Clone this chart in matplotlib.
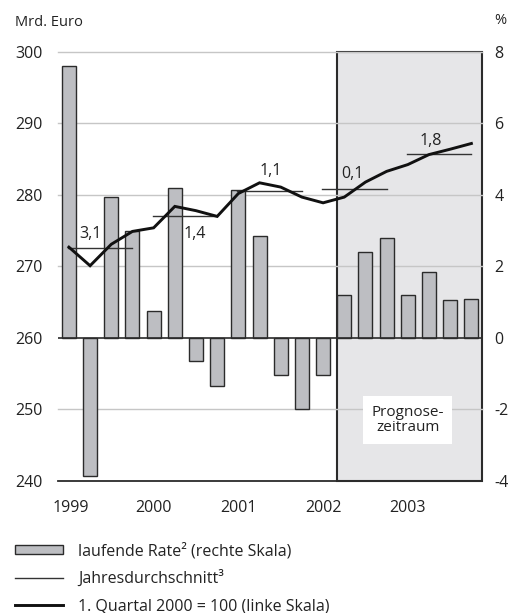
import numpy as np
import matplotlib.pyplot as plt
from matplotlib.patches import Rectangle, Patch
from matplotlib.lines import Line2D

plt.rcParams['font.family'] = ['Open Sans', 'DejaVu Sans']

# data
years = ['1999', '2000', '2001', '2002', '2003']
# laufende Rate (rechte Skala, %)
rate = [7.6, -3.85, 3.95, 3.0, 0.75, 4.2, -0.65, -1.35,
        4.15, 2.85, -1.05, -2.0, -1.05, 1.2, 2.4, 2.8,
        1.2, 1.85, 1.05, 1.1]
# 1. Quartal 2000 = 100 (linke Skala)
level = [272.7, 270.1, 273.1, 274.9, 275.4, 278.4, 277.8, 277.0,
         280.2, 281.7, 281.1, 279.7, 278.9, 279.7, 281.8, 283.3,
         284.25, 285.65, 286.4, 287.2]
# Jahresdurchschnitt (linke Skala) and its growth labels
annual_avg = [272.6, 277.0, 280.6, 280.85, 285.75]
annual_lbl = ['3,1', '1,4', '1,1', '0,1', '1,8']
left_ticks = [240, 250, 260, 270, 280, 290, 300]
right_ticks = [-4, -2, 0, 2, 4, 6, 8]

dark = '#2b2b2b'
bar_col = '#bdbec2'
shade = '#e6e6e8'
grid_col = '#c6c6c6'

fig = plt.figure(figsize=(5.11, 6.13), dpi=100)
ax2 = fig.add_axes([0.1141, 0.2155, 0.8291, 0.6997])
ax = ax2.twinx()
ax.set_zorder(ax2.get_zorder() + 1)
ax.patch.set_visible(False)

n = len(rate)
xq = np.arange(n) + 0.5

# right scale: bars, shading, grid
ax2.set_xlim(0, n)
ax2.set_ylim(-4, 8)
ax2.add_patch(Rectangle((13.17, -4), n - 13.17, 12, facecolor=shade,
                        edgecolor=dark, linewidth=1.5, zorder=0.5, clip_on=False))
for t in right_ticks[1:]:
    if t != 0:
        ax2.axhline(t, color=grid_col, lw=1, zorder=1, clip_on=False)
ax2.bar(xq, rate, width=0.66, color=bar_col, edgecolor=dark, linewidth=1, zorder=2)
ax2.axhline(0, color=dark, lw=1.2, zorder=3)
ax2.text(16.5, -2.3, 'Prognose-\nzeitraum', ha='center', va='center', fontsize=11,
         linespacing=1.05, color='#222222',
         bbox=dict(facecolor='white', edgecolor='none', pad=6), zorder=4)

# left scale: level line and annual averages
ax.set_ylim(240, 300)
ax.set_xlim(0, n)
ax.plot(xq, level, color='#111111', lw=2.1, zorder=5, solid_joinstyle='miter')
lbl_pos = [(1.5, 274.6), (6.45, 274.6), (10.05, 283.3), (13.9, 283.0), (17.6, 287.6)]
for k in range(len(annual_avg)):
    ax.plot([4 * k + 0.45, 4 * k + 3.5], [annual_avg[k]] * 2, color='#333333',
            lw=1.0, zorder=4)
    ax.text(lbl_pos[k][0], lbl_pos[k][1], annual_lbl[k], ha='center', va='center',
            fontsize=11.5, color='#222222', zorder=6)

# axes cosmetics
for a in (ax, ax2):
    for s in ('left', 'right', 'top'):
        a.spines[s].set_visible(False)
ax.spines['bottom'].set_visible(False)
ax2.spines['bottom'].set_color(dark)
ax2.spines['bottom'].set_linewidth(1.3)
ax2.spines['bottom'].set_zorder(6)

ax2.set_xticks(np.arange(n + 1))
ax2.set_xticklabels([])
ax2.tick_params(axis='x', direction='out', length=7, width=1.1, color=dark)
ax.tick_params(axis='x', length=0)
ax.set_xticks([])
for k, y in enumerate(years):
    xpos = 0.6 if k == 0 else 4 * k + 0.5
    ax2.text(xpos, -4.75, y, ha='center', va='center', fontsize=11.5, color='#222222')

ax.set_yticks(left_ticks)
ax.yaxis.set_ticks_position('left')
ax.yaxis.set_label_position('left')
ax.tick_params(axis='y', length=0, pad=11, labelsize=11.5, labelcolor='#222222')
ax2.yaxis.set_ticks_position('right')
ax2.set_yticks(right_ticks)
ax2.set_yticklabels([str(t) for t in right_ticks])
ax2.tick_params(axis='y', length=0, pad=9, labelsize=11.5, labelcolor='#222222')

fig.text(15 / 511, 1 - 22 / 613, 'Mrd. Euro', fontsize=10.5, va='center', ha='left',
         color='#222222')
fig.text(506 / 511, 1 - 21 / 613, '%', fontsize=10.5, va='center', ha='right',
         color='#222222')

# legend
handles = [Patch(facecolor=bar_col, edgecolor=dark, linewidth=1),
           Line2D([], [], color='#333333', lw=1.0),
           Line2D([], [], color='#111111', lw=2.1)]
labels = ['laufende Rate² (rechte Skala)', 'Jahresdurchschnitt³',
          '1. Quartal 2000 = 100 (linke Skala)']
fig.legend(handles, labels, loc='upper left', bbox_to_anchor=(0.029, 0.115),
           frameon=False, fontsize=11.5, handlelength=3.0, handleheight=0.5,
           handletextpad=0.95, labelspacing=0.7, borderpad=0, borderaxespad=0,
           labelcolor='#222222')

fig.savefig('out.png', dpi=100)
